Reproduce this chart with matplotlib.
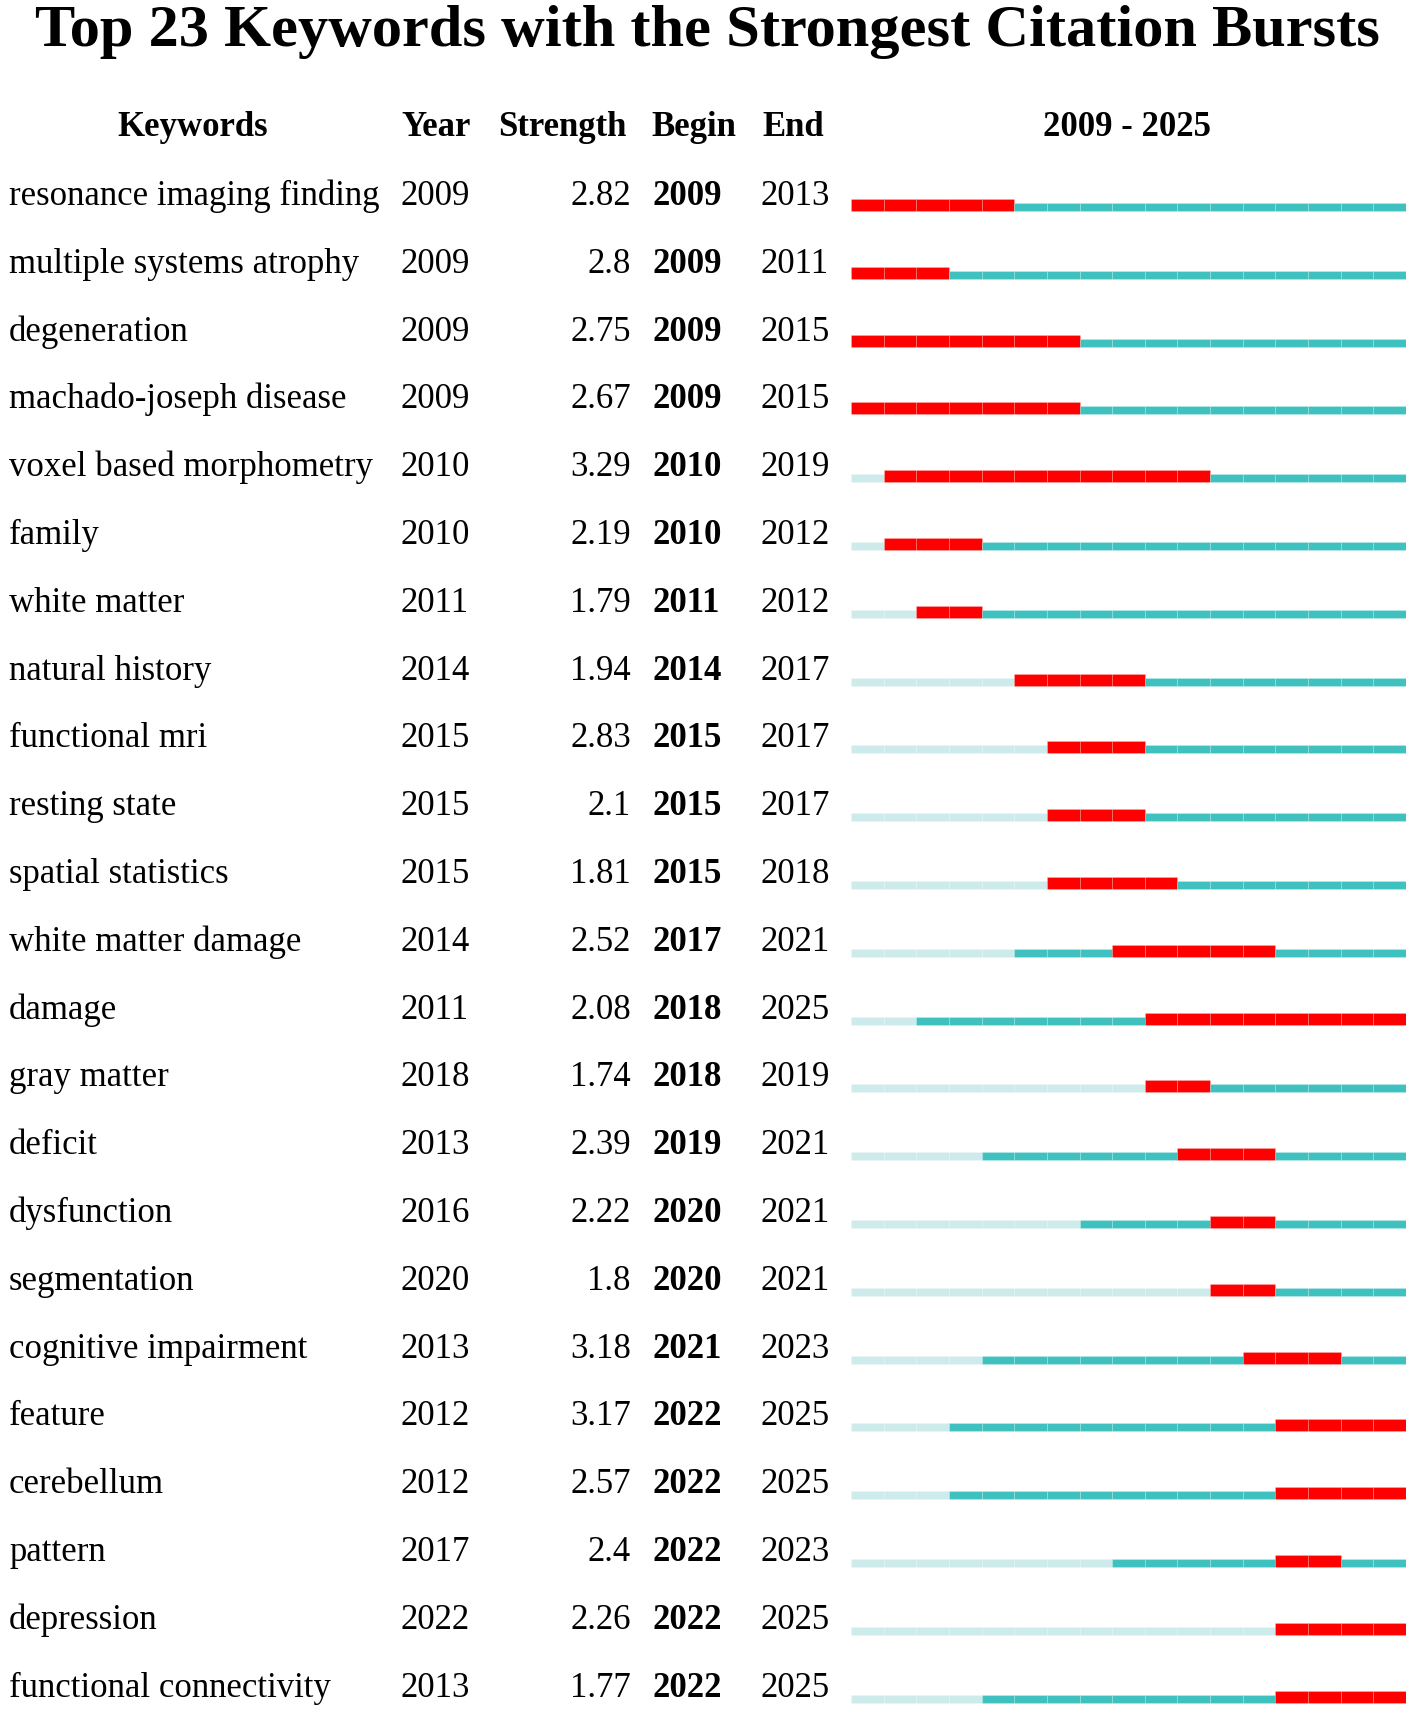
import matplotlib
matplotlib.use("Agg")
import matplotlib.pyplot as plt

# ---------------- data ----------------
keywords = ["resonance imaging finding", "multiple systems atrophy", "degeneration",
            "machado-joseph disease", "voxel based morphometry", "family", "white matter",
            "natural history", "functional mri", "resting state", "spatial statistics",
            "white matter damage", "damage", "gray matter", "deficit", "dysfunction",
            "segmentation", "cognitive impairment", "feature", "cerebellum", "pattern",
            "depression", "functional connectivity"]
years = [2009, 2009, 2009, 2009, 2010, 2010, 2011, 2014, 2015, 2015, 2015, 2014, 2011,
         2018, 2013, 2016, 2020, 2013, 2012, 2012, 2017, 2022, 2013]
strengths = [2.82, 2.8, 2.75, 2.67, 3.29, 2.19, 1.79, 1.94, 2.83, 2.1, 1.81, 2.52, 2.08,
             1.74, 2.39, 2.22, 1.8, 3.18, 3.17, 2.57, 2.4, 2.26, 1.77]
begins = [2009, 2009, 2009, 2009, 2010, 2010, 2011, 2014, 2015, 2015, 2015, 2017, 2018,
          2018, 2019, 2020, 2020, 2021, 2022, 2022, 2022, 2022, 2022]
ends = [2013, 2011, 2015, 2015, 2019, 2012, 2012, 2017, 2017, 2017, 2018, 2021, 2025,
        2019, 2021, 2021, 2021, 2023, 2025, 2025, 2023, 2025, 2025]
range_start, range_end = 2009, 2025
title = "Top 23 Keywords with the Strongest Citation Bursts"
headers = ["Keywords", "Year", "Strength", "Begin", "End"]

# ---------------- style ----------------
W, H = 1418, 1715
RED = "#FF0000"
TEAL = "#3FC1C0"
LIGHT = "#CDEBEB"
FONT = "Liberation Serif"
FS = 25

fig = plt.figure(figsize=(W / 100, H / 100), dpi=100)

# text layer in pixel coordinates
tax = fig.add_axes([0, 0, 1, 1])
tax.set_xlim(0, W)
tax.set_ylim(H, 0)
tax.axis("off")

tax.text(707, 46, title, ha="center", va="baseline", fontsize=43.5,
         fontweight="bold", family=FONT)

hy = 136
tax.text(193, hy, headers[0], ha="center", va="baseline", fontsize=FS, fontweight="bold", family=FONT)
tax.text(436, hy, headers[1], ha="center", va="baseline", fontsize=FS, fontweight="bold", family=FONT)
tax.text(562, hy, headers[2], ha="center", va="baseline", fontsize=FS, fontweight="bold", family=FONT)
tax.text(694, hy, headers[3], ha="center", va="baseline", fontsize=FS, fontweight="bold", family=FONT)
tax.text(793, hy, headers[4], ha="center", va="baseline", fontsize=FS, fontweight="bold", family=FONT)
tax.text(1127, hy, f"{range_start} - {range_end}", ha="center", va="baseline",
         fontsize=FS, fontweight="bold", family=FONT)

row0, step = 205, 67.8
for i, kw in enumerate(keywords):
    y = row0 + step * i
    tax.text(9, y, kw, ha="left", va="baseline", fontsize=FS, family=FONT)
    tax.text(400, y, str(years[i]), ha="left", va="baseline", fontsize=FS, family=FONT)
    tax.text(631, y, f"{strengths[i]:g}", ha="right", va="baseline", fontsize=FS, family=FONT)
    tax.text(653, y, str(begins[i]), ha="left", va="baseline", fontsize=FS,
             fontweight="bold", family=FONT)
    tax.text(760, y, str(ends[i]), ha="left", va="baseline", fontsize=FS, family=FONT)

# timeline axes: x in years, y in rows (bar bottom at row index)
x0, x1 = 851, 1406
top_px, bot_px = 150, H
bar_bottom0 = 212
bax = fig.add_axes([x0 / W, 1 - bot_px / H, (x1 - x0) / W, (bot_px - top_px) / H])
bax.set_xlim(range_start, range_end + 1)
bax.set_ylim((bot_px - bar_bottom0) / step, (top_px - bar_bottom0) / step)
bax.axis("off")
bax.patch.set_alpha(0)

h_red = 12 / step
h_teal = 8 / step
edge = (1, 1, 1, 0.2)
for i in range(len(keywords)):
    for yr in range(range_start, range_end + 1):
        if begins[i] <= yr <= ends[i]:
            c, h = RED, h_red
        elif yr >= years[i]:
            c, h = TEAL, h_teal
        else:
            c, h = LIGHT, h_teal
        bax.barh(i - h, 1, left=yr, height=h, align="edge", color=c,
                 edgecolor=edge, linewidth=0.6)

fig.savefig("out.png", dpi=100)
